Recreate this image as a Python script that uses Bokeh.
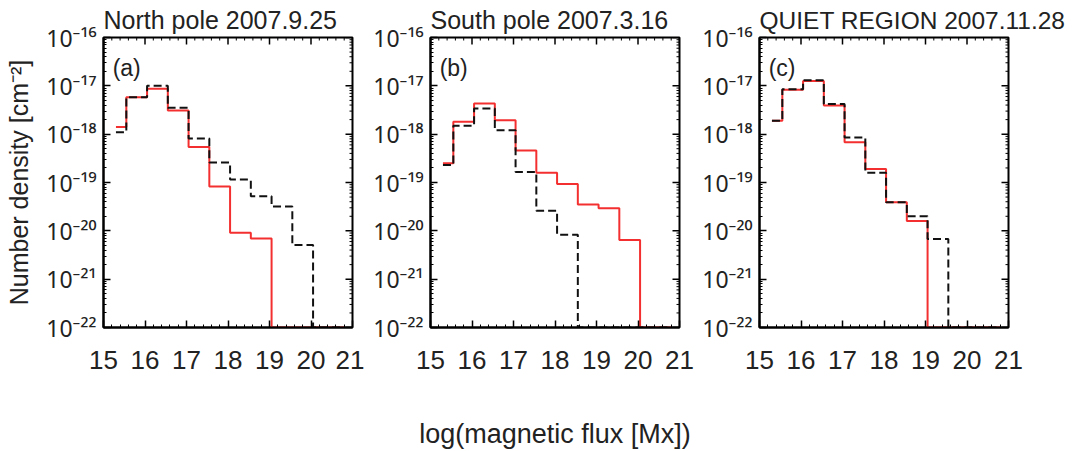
import numpy as np
from bokeh.plotting import figure
from bokeh.layouts import row
from bokeh.models import FixedTicker, CustomJSTickFormatter, Label, Range1d
from bokeh.embed import file_html
from bokeh.resources import INLINE

# ---------------- data ----------------
flux_centers = [15.3, 15.8, 16.3, 16.8, 17.3, 17.8, 18.3, 18.8, 19.3, 19.8, 20.3, 20.8]

north_red = [1.4e-18, 5.8e-18, 8.7e-18, 3.1e-18, 5.4e-19, 8.3e-20, 9.1e-21, 6.9e-21,
             1e-22, 1e-22, 1e-22, 1e-22]
north_black = [1.1e-18, 5.8e-18, 1.0e-17, 3.5e-18, 8.1e-19, 2.6e-19, 1.15e-19, 5.2e-20,
               3.2e-20, 5.1e-21, 1e-22, 1e-22]

south_red = [2.5e-19, 1.8e-18, 4.3e-18, 1.95e-18, 4.6e-19, 1.6e-19, 9.3e-20, 3.5e-20,
             2.95e-20, 6.5e-21, 1e-22, 1e-22]
south_black = [2.3e-19, 1.5e-18, 3.4e-18, 1.2e-18, 1.65e-19, 2.6e-20, 8.3e-21, 1e-22,
               1e-22, 1e-22, 1e-22, 1e-22]

quiet_red = [1.9e-18, 8.3e-18, 1.26e-17, 3.9e-18, 6.8e-19, 1.9e-19, 3.9e-20, 1.6e-20,
             1e-22, 1e-22, 1e-22, 1e-22]
quiet_black = [1.9e-18, 8.5e-18, 1.3e-17, 4.2e-18, 8.5e-19, 1.6e-19, 3.9e-20, 2.0e-20,
               6.8e-21, 1e-22, 1e-22, 1e-22]

titles = ["North pole 2007.9.25", "South pole 2007.3.16", "QUIET REGION 2007.11.28"]
title_sizes = ["25px", "25px", "24.5px"]
panel_tags = ["(a)", "(b)", "(c)"]
x_ticks = [15, 16, 17, 18, 19, 20, 21]
y_ticks = [1e-22, 1e-21, 1e-20, 1e-19, 1e-18, 1e-17, 1e-16]
X_MIN, X_MAX = 15, 21
Y_MIN, Y_MAX = 1e-22, 1e-16

FONT = "Liberation Sans"
TXT = "#222222"
RED = "#f42f2f"

x_minor = [round(v, 2) for v in np.arange(15.0, 21.01, 0.2) if abs(v - round(v)) > 1e-6]
y_minor = [m * 10.0 ** e for e in range(-22, -16) for m in range(2, 10)]

sup_fmt = CustomJSTickFormatter(code="""
const e = Math.round(Math.log10(tick));
const sup = {"-":"\\u207B","0":"\\u2070","1":"\\u00B9","2":"\\u00B2","3":"\\u00B3",
             "4":"\\u2074","5":"\\u2075","6":"\\u2076","7":"\\u2077","8":"\\u2078","9":"\\u2079"};
return "10" + String(e).split("").map(c => sup[c]).join("");
""")


def style_axis(ax):
    ax.axis_line_width = 2
    ax.axis_line_color = "black"
    ax.major_tick_in = 7
    ax.major_tick_out = 0
    ax.minor_tick_in = 3
    ax.minor_tick_out = 0
    ax.major_tick_line_width = 1.5
    ax.minor_tick_line_width = 1
    ax.major_tick_line_color = "black"
    ax.minor_tick_line_color = "black"


def make_panel(i, red, black, left, right):
    p = figure(frame_width=249, frame_height=290, y_axis_type="log",
               x_range=Range1d(X_MIN, X_MAX), y_range=Range1d(Y_MIN, Y_MAX),
               output_backend="svg", toolbar_location=None,
               min_border_left=left, min_border_right=right,
               min_border_top=36, min_border_bottom=110)
    p.xgrid.visible = False
    p.ygrid.visible = False
    p.outline_line_color = "black"
    p.outline_line_width = 2
    p.background_fill_color = "white"
    p.border_fill_color = "white"

    p.title.text = titles[i]
    p.title.text_font = FONT
    p.title.text_font_size = title_sizes[i]
    p.title.text_font_style = "normal"
    p.title.text_color = TXT
    p.title.align = "left"
    p.title.standoff = 7
    p.title.offset = 0

    xa = p.xaxis[0]
    xa.ticker = FixedTicker(ticks=x_ticks, minor_ticks=x_minor)
    style_axis(xa)
    xa.major_label_text_font = FONT
    xa.major_label_text_font_size = "26px"
    xa.major_label_text_color = TXT
    xa.major_label_standoff = 23

    ya = p.yaxis[0]
    ya.ticker = FixedTicker(ticks=y_ticks, minor_ticks=y_minor)
    ya.formatter = sup_fmt
    style_axis(ya)
    ya.major_label_text_font = "Noto Sans"
    ya.major_label_text_font_size = "23px"
    ya.major_label_text_color = TXT
    ya.major_label_standoff = 7

    # mirrored inward ticks on the top and right frame edges
    p.ray(x=x_ticks, y=[Y_MAX] * len(x_ticks), length=7, length_units="screen",
          angle=-np.pi / 2, line_color="black", line_width=1.5)
    p.ray(x=x_minor, y=[Y_MAX] * len(x_minor), length=3, length_units="screen",
          angle=-np.pi / 2, line_color="black", line_width=1)
    p.ray(x=[X_MAX] * len(y_ticks), y=y_ticks, length=7, length_units="screen",
          angle=np.pi, line_color="black", line_width=1.5)
    p.ray(x=[X_MAX] * len(y_minor), y=y_minor, length=3, length_units="screen",
          angle=np.pi, line_color="black", line_width=1)

    p.step(flux_centers, red, mode="center", line_color=RED, line_width=2)
    p.step(flux_centers, black, mode="center", line_color="#111111", line_width=2,
           line_dash="8 4")

    p.add_layout(Label(x=15.22, y=2.3e-17, text=panel_tags[i], text_font=FONT,
                       text_font_size="23px", text_color=TXT, text_baseline="middle",
                       text_align="left"))
    return p, xa, ya


pa, pa_x, pa_y = make_panel(0, north_red, north_black, 103, 12)
pa_y.axis_label = "Number density [cm\u207B\u00B2]"
pa_y.axis_label_text_font = FONT
pa_y.axis_label_text_font_size = "25px"
pa_y.axis_label_text_font_style = "normal"
pa_y.axis_label_text_color = TXT
pa_y.axis_label_standoff = 10

pb, pb_x, pb_y = make_panel(1, south_red, south_black, 66, 20)
pb_x.axis_label = "log(magnetic flux [Mx])"
pb_x.axis_label_text_font = FONT
pb_x.axis_label_text_font_size = "27px"
pb_x.axis_label_text_font_style = "normal"
pb_x.axis_label_text_color = TXT
pb_x.axis_label_standoff = 47

pc, pc_x, pc_y = make_panel(2, quiet_red, quiet_black, 58, 62)

layout = row(pa, pb, pc)
open("out.html", "w", encoding="utf-8").write(file_html(layout, INLINE))
